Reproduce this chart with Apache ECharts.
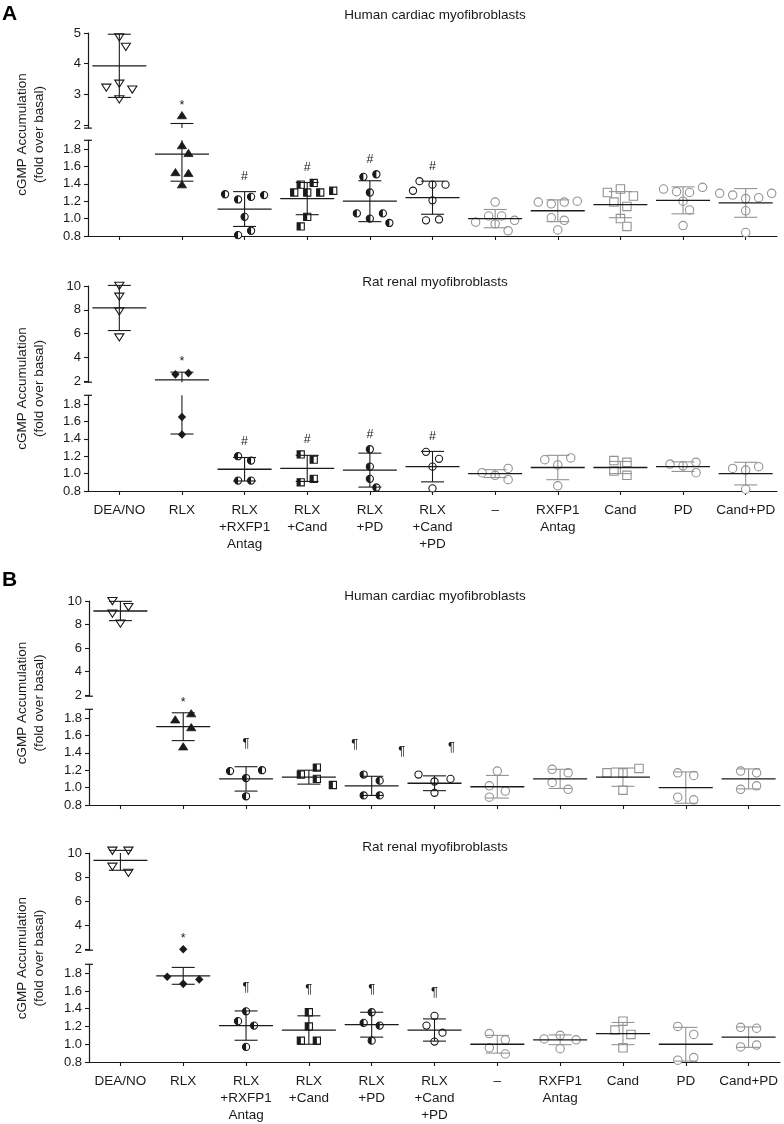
<!DOCTYPE html>
<html>
<head>
<meta charset="utf-8">
<script src="https://cdn.jsdelivr.net/npm/echarts@6/dist/echarts.min.js"></script>
<style>
  html, body { margin: 0; padding: 0; background: #fff; }
  #chart { width: 784px; height: 1124px; }
</style>
</head>
<body>
<div id="chart"></div>
<script>
// ---- data ----
const categories = ['DEA/NO', 'RLX', 'RLX\n+RXFP1\nAntag', 'RLX\n+Cand', 'RLX\n+PD', 'RLX\n+Cand\n+PD', '–', 'RXFP1\nAntag', 'Cand', 'PD', 'Cand+PD']
const panelTitles = ['Human cardiac myofibroblasts', 'Rat renal myofibroblasts', 'Human cardiac myofibroblasts', 'Rat renal myofibroblasts']
const upperTicks5 = [2, 3, 4, 5]
const upperTicks10 = [2, 4, 6, 8, 10]
const lowerTicks = [0.8, 1.0, 1.2, 1.4, 1.6, 1.8]
const breakValue = 1.9

// A, human cardiac
const humanA_pts = [
  [4.56, 4.87, 3.23, 3.36, 3.17, 2.85],
  [2.31, 1.75, 1.84, 1.53, 1.52, 1.39],
  [1.28, 1.22, 1.25, 1.27, 1.02, 0.81, 0.86],
  [1.39, 1.41, 1.30, 1.30, 1.30, 1.32, 1.02, 0.91],
  [1.48, 1.51, 1.30, 1.06, 0.95, 1.00, 1.06],
  [1.43, 1.39, 1.39, 1.32, 1.21, 0.98, 0.99],
  [1.19, 0.96, 1.03, 1.03, 0.98, 0.94, 0.86],
  [1.19, 1.17, 1.19, 1.20, 1.01, 0.98, 0.87],
  [1.30, 1.34, 1.26, 1.19, 1.14, 1.00, 0.91],
  [1.34, 1.31, 1.30, 1.36, 1.20, 1.10, 0.92],
  [1.29, 1.27, 1.23, 1.24, 1.29, 1.09, 0.84]
]
const humanA_mean = [3.93, 1.74, 1.11, 1.23, 1.20, 1.24, 1.00, 1.09, 1.16, 1.21, 1.18]
const humanA_sd = [1.03, 0.31, 0.20, 0.185, 0.235, 0.19, 0.105, 0.125, 0.15, 0.155, 0.165]
const humanA_annPos = [1, 2, 3, 4, 5]
const humanA_annMark = ['*', '#', '#', '#', '#']

// A, rat renal
const ratA_pts = [
  [9.13, 10.05, 7.89, 5.70],
  [2.56, 2.67, 1.65, 1.45],
  [1.20, 1.15, 0.92, 0.92],
  [1.22, 1.16, 0.90, 0.94],
  [1.28, 1.08, 0.94, 0.84],
  [1.25, 1.17, 1.08, 0.83],
  [1.01, 0.93, 0.98, 1.06],
  [1.16, 1.10, 1.18, 0.86],
  [1.15, 1.13, 1.03, 0.98],
  [1.11, 1.01, 1.09, 1.13],
  [1.06, 1.04, 1.08, 0.82]
]
const ratA_mean = [8.15, 2.10, 1.05, 1.06, 1.04, 1.08, 1.00, 1.07, 1.07, 1.08, 1.00]
const ratA_sd = [1.90, 0.645, 0.135, 0.15, 0.195, 0.175, 0.045, 0.14, 0.07, 0.055, 0.13]
const ratA_annPos = [1, 2, 3, 4, 5]
const ratA_annMark = ['*', '#', '#', '#', '#']

// B, human cardiac
const humanB_pts = [
  [10.03, 9.52, 8.95, 8.10],
  [1.78, 1.85, 1.69, 1.47],
  [1.19, 1.11, 1.20, 0.90],
  [1.15, 1.23, 1.10, 1.03],
  [1.15, 1.08, 0.91, 0.91],
  [1.15, 1.07, 1.10, 0.94],
  [1.19, 1.02, 0.96, 0.89],
  [1.21, 1.17, 1.06, 0.98],
  [1.17, 1.17, 1.22, 0.97],
  [1.17, 1.14, 0.89, 0.86],
  [1.19, 1.17, 0.98, 1.02]
]
const humanB_mean = [9.15, 1.70, 1.10, 1.12, 1.02, 1.05, 1.01, 1.10, 1.12, 1.00, 1.10]
const humanB_sd = [0.82, 0.16, 0.14, 0.08, 0.11, 0.085, 0.13, 0.11, 0.105, 0.18, 0.115]
const humanB_annPos = [1, 2, 3.73, 4.48, 5.27]
const humanB_annMark = ['*', '¶', '¶', '¶', '¶']

// B, rat renal
const ratB_pts = [
  [10.22, 10.22, 8.89, 8.38],
  [1.98, 1.76, 1.68, 1.73],
  [1.37, 1.26, 1.21, 0.97],
  [1.36, 1.20, 1.04, 1.04],
  [1.36, 1.24, 1.21, 1.04],
  [1.32, 1.21, 1.13, 1.03],
  [1.12, 1.05, 0.96, 0.89],
  [1.06, 1.10, 1.05, 0.95],
  [1.26, 1.16, 1.11, 0.96],
  [1.20, 1.11, 0.82, 0.85],
  [1.19, 1.18, 0.97, 0.99]
]
const ratB_mean = [9.39, 1.77, 1.21, 1.16, 1.22, 1.16, 1.00, 1.05, 1.12, 1.00, 1.08]
const ratB_sd = [0.83, 0.095, 0.165, 0.16, 0.14, 0.125, 0.10, 0.055, 0.125, 0.19, 0.115]
const ratB_annPos = [1, 2, 3, 4, 5]
const ratB_annMark = ['*', '¶', '¶', '¶', '¶']

// ---- look ----
const BLACK = '#1a1a1a'
const GREY = '#939393'
const FONT = '"Liberation Sans", Arial, Helvetica, sans-serif'
const markerTypes = ['triDown', 'rlx', 'halfCircle', 'halfSquare', 'halfCircle', 'circle', 'circle', 'circle', 'square', 'circle', 'circle']
const isGrey = [false, false, false, false, false, false, true, true, true, true, true]
const CAP = 11.5
const MEAN = 27
const GAP = { '*': 6.4, '#': 11, '¶': 19.3 }

const panels = [
  { pts: humanA_pts, mean: humanA_mean, sd: humanA_sd, annPos: humanA_annPos, annMark: humanA_annMark,
    rlx: 'triUp', upMax: 5, upTicks: upperTicks5, upTop: 33, upBottom: 128.1, loTop: 140.3, loBottom: 236,
    left: 88, width: 689, labels: false, titleY: 15, step: 13, minDist: 12 },
  { pts: ratA_pts, mean: ratA_mean, sd: ratA_sd, annPos: ratA_annPos, annMark: ratA_annMark,
    rlx: 'diamond', upMax: 10, upTicks: upperTicks10, upTop: 286, upBottom: 382.2, loTop: 395.3, loBottom: 491,
    left: 88, width: 689, labels: true, titleY: 282, step: 13, minDist: 12 },
  { pts: humanB_pts, mean: humanB_mean, sd: humanB_sd, annPos: humanB_annPos, annMark: humanB_annMark,
    rlx: 'triUp', upMax: 10, upTicks: upperTicks10, upTop: 601, upBottom: 696.2, loTop: 709.3, loBottom: 805,
    left: 89, width: 691, labels: false, titleY: 596, step: 16, minDist: 14 },
  { pts: ratB_pts, mean: ratB_mean, sd: ratB_sd, annPos: ratB_annPos, annMark: ratB_annMark,
    rlx: 'diamond', upMax: 10, upTicks: upperTicks10, upTop: 853, upBottom: 950.2, loTop: 964.3, loBottom: 1063.3,
    left: 89, width: 691, labels: true, titleY: 847, step: 16, minDist: 14 }
]

function line(x1, y1, x2, y2, color, w) {
  return { type: 'line', shape: { x1, y1, x2, y2 }, style: { stroke: color, lineWidth: w } }
}

// scatter-dot layout: close values share a row and are centred side by side,
// a row is nudged sideways when it would sit on the row above
function spread(ys, minDist, step) {
  const order = ys.map((y, k) => k).sort((a, b) => ys[a] - ys[b] || a - b)
  const rows = []
  order.forEach(k => {
    const row = rows[rows.length - 1]
    if (row && ys[k] - ys[row[0]] < 0.6 * minDist) row.push(k)
    else rows.push([k])
  })
  const off = ys.map(() => 0)
  const placed = []
  rows.forEach(row => {
    row.sort((a, b) => a - b)
    const base = row.map((k, j) => (j - (row.length - 1) / 2) * step)
    const sum = placed.reduce((s, p) => s + p.x, 0)
    for (let n = 0; n < 12; n++) {
      const d = n * step / 2
      const shifts = n === 0 ? [0] : (sum > 0 ? [-d, d] : [d, -d])
      const ok = shifts.find(sh => row.every((k, j) =>
        placed.every(p => Math.hypot(p.x - base[j] - sh, p.y - ys[k]) >= 0.8 * minDist)))
      if (ok !== undefined) {
        row.forEach((k, j) => {
          off[k] = base[j] + ok
          placed.push({ x: off[k], y: ys[k] })
        })
        return
      }
    }
  })
  return off
}

function marker(type, x, y, r, color) {
  const lw = 1.1
  const c = { cx: x, cy: y, r }
  const sq = { x: x - r, y: y - r, width: 2 * r, height: 2 * r }
  switch (type) {
    case 'circle':
      return [{ type: 'circle', shape: c, style: { fill: '#fff', stroke: color, lineWidth: lw } }]
    case 'square':
      return [{ type: 'rect', shape: sq, style: { fill: '#fff', stroke: color, lineWidth: lw } }]
    case 'halfCircle':
      return [
        { type: 'circle', shape: c, style: { fill: '#fff' } },
        { type: 'sector', shape: { cx: x, cy: y, r0: 0, r, startAngle: Math.PI / 2, endAngle: Math.PI * 1.5, clockwise: true }, style: { fill: color } },
        { type: 'circle', shape: c, style: { fill: 'none', stroke: color, lineWidth: lw } }
      ]
    case 'halfSquare':
      return [
        { type: 'rect', shape: sq, style: { fill: '#fff' } },
        { type: 'rect', shape: { x: x - r, y: y - r, width: r, height: 2 * r }, style: { fill: color } },
        { type: 'rect', shape: sq, style: { fill: 'none', stroke: color, lineWidth: lw } }
      ]
    case 'triDown':
      return [{ type: 'polygon', shape: { points: [[x - r * 1.15, y - r * 0.8], [x + r * 1.15, y - r * 0.8], [x, y + r * 1.0]] }, style: { fill: '#fff', stroke: color, lineWidth: lw } }]
    case 'triUp':
      return [{ type: 'polygon', shape: { points: [[x - r * 1.15, y + r * 0.8], [x + r * 1.15, y + r * 0.8], [x, y - r * 1.0]] }, style: { fill: color, stroke: color, lineWidth: 0.8 } }]
    case 'diamond':
      return [{ type: 'polygon', shape: { points: [[x, y - r * 1.2], [x + r * 1.15, y], [x, y + r * 1.2], [x - r * 1.15, y]] }, style: { fill: color } }]
  }
  return []
}

function makeRender(p, part) {
  const isUp = part === 'up'
  // which half of the broken axis a value belongs to
  const inPart = v => isUp ? v >= breakValue : (v < breakValue && v >= 0.78)
  return function (params, api) {
    const i = params.dataIndex
    const cs = params.coordSys
    const top = cs.y
    const bottom = cs.y + cs.height
    const band = cs.width / categories.length
    const cx = api.coord([i, 1])[0]
    const Y = v => api.coord([i, v])[1]
    const grey = isGrey[i]
    const barColor = grey ? GREY : BLACK
    const kids = []

    // points
    const vals = p.pts[i].filter(inPart)
    const ys = vals.map(Y)
    const offs = spread(ys, p.minDist, p.step)
    const type = markerTypes[i] === 'rlx' ? p.rlx : markerTypes[i]
    const r = grey ? 4.2 : (type === 'triDown' || type === 'triUp' ? 4 : 3.6)
    vals.forEach((v, k) => kids.push(...marker(type, cx + offs[k], ys[k], r, grey ? GREY : BLACK)))

    // SD bar, caps and mean, cut at the axis break
    const m = p.mean[i]
    const s = p.sd[i]
    const yHi = Y(m + s)
    const yLo = Y(m - s)
    const a = Math.max(yHi, top)
    const b = Math.min(yLo, bottom)
    if (a < b) kids.push(line(cx, a, cx, b, barColor, 1.1))
    if (inPart(m + s)) kids.push(line(cx - CAP, yHi, cx + CAP, yHi, barColor, 1.1))
    if (inPart(m - s)) kids.push(line(cx - CAP, yLo, cx + CAP, yLo, barColor, 1.1))
    if (inPart(m)) kids.push(line(cx - MEAN, Y(m), cx + MEAN, Y(m), BLACK, 1.3))

    // small end caps of the broken y axis
    if (i === 0) {
      const yb = isUp ? bottom : top
      kids.push(line(cs.x - 4, yb, cs.x + 4, yb, BLACK, 1.2))
    }

    // significance marks
    p.annPos.forEach((pos, k) => {
      if (Math.round(pos) !== i) return
      const near = [Math.floor(pos), Math.ceil(pos)]
      const topVal = Math.max(...near.map(c => Math.max(p.mean[c] + p.sd[c], ...p.pts[c])))
      if ((topVal >= breakValue) !== isUp) return
      const mark = p.annMark[k]
      kids.push({
        type: 'text',
        style: {
          text: mark, x: cx + (pos - i) * band, y: Y(topVal) - 4 - GAP[mark],
          textAlign: 'center', textVerticalAlign: 'middle',
          fontSize: mark === '¶' ? 13 : 12.5, fontFamily: FONT, fill: BLACK
        }
      })
    })

    return { type: 'group', children: kids }
  }
}

const grids = []
const xAxes = []
const yAxes = []
const series = []
const graphics = []

panels.forEach((p, pi) => {
  ['up', 'lo'].forEach(part => {
    const g = grids.length
    const isUp = part === 'up'
    grids.push({
      left: p.left, width: p.width,
      top: isUp ? p.upTop : p.loTop,
      height: isUp ? p.upBottom - p.upTop : p.loBottom - p.loTop
    })
    xAxes.push({
      type: 'category', gridIndex: g, data: categories, boundaryGap: true, show: !isUp,
      axisLine: { show: true, lineStyle: { color: BLACK, width: 1.2 } },
      axisTick: { show: true, alignWithLabel: true, length: 4, lineStyle: { color: BLACK, width: 1.1 } },
      axisLabel: { show: p.labels, interval: 0, color: BLACK, fontSize: 13.5, lineHeight: 17, margin: 11, fontFamily: FONT },
      splitLine: { show: false }
    })
    const ticks = isUp ? p.upTicks : lowerTicks
    yAxes.push({
      type: 'value', gridIndex: g,
      min: isUp ? breakValue : 0.8, max: isUp ? p.upMax : breakValue,
      axisLine: { show: true, lineStyle: { color: BLACK, width: 1.2 } },
      axisTick: { show: true, length: 4, customValues: ticks, lineStyle: { color: BLACK, width: 1.1 } },
      axisLabel: {
        customValues: ticks, color: BLACK, fontSize: 13, margin: 7, fontFamily: FONT,
        formatter: v => isUp ? String(Math.round(v)) : Number(v).toFixed(1)
      },
      splitLine: { show: false }
    })
    series.push({
      type: 'custom', xAxisIndex: g, yAxisIndex: g, clip: false, silent: true, z: 5,
      data: categories.map((c, i) => i),
      renderItem: makeRender(p, part)
    })
  })

  graphics.push({
    type: 'text', x: 435, y: p.titleY,
    style: { text: panelTitles[pi], fontSize: 13.5, fontFamily: FONT, fill: BLACK, textAlign: 'center', textVerticalAlign: 'middle' }
  })
  graphics.push({
    type: 'text', x: 31, y: (p.upTop + p.loBottom) / 2, rotation: Math.PI / 2,
    style: { text: 'cGMP Accumulation\n(fold over basal)', fontSize: 13.5, lineHeight: 17, fontFamily: FONT, fill: BLACK, textAlign: 'center', textVerticalAlign: 'middle' }
  })
})

graphics.push({ type: 'text', x: 2, y: 14, style: { text: 'A', fontSize: 21, fontWeight: 'bold', fontFamily: FONT, fill: '#000', textVerticalAlign: 'middle' } })
graphics.push({ type: 'text', x: 2, y: 580, style: { text: 'B', fontSize: 21, fontWeight: 'bold', fontFamily: FONT, fill: '#000', textVerticalAlign: 'middle' } })

const chart = echarts.init(document.getElementById('chart'), null, { renderer: 'canvas' })
chart.setOption({
  animation: false,
  backgroundColor: '#fff',
  grid: grids,
  xAxis: xAxes,
  yAxis: yAxes,
  series: series,
  graphic: graphics
})
</script>
</body>
</html>
